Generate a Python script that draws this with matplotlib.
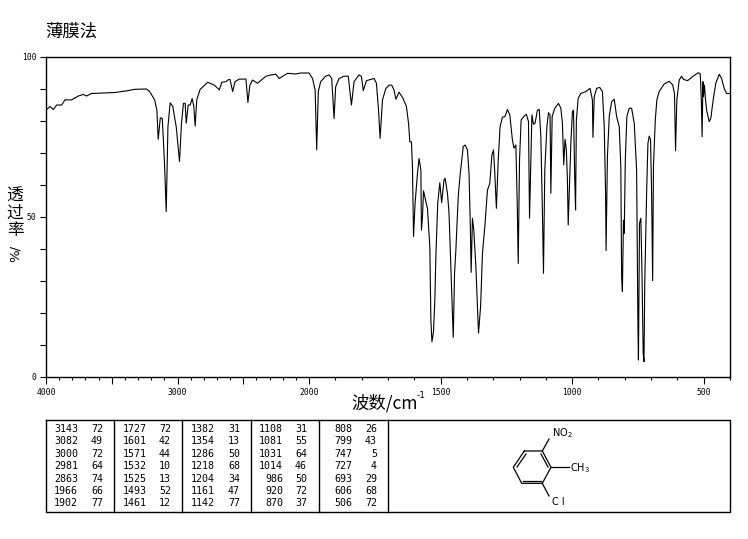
import matplotlib
matplotlib.use("Agg")
import numpy as np
import matplotlib.pyplot as plt
from matplotlib.ticker import FixedLocator, FixedFormatter

plt.rcParams['font.family'] = ['Noto Sans CJK SC', 'DejaVu Sans']

# spectrum: wavenumber (cm-1) and transmittance (%)
wavenumber = [
    4000, 3970, 3944, 3919, 3881, 3856, 3806, 3755, 3717, 3692, 3654, 3528, 3477, 3376, 3326,
    3237, 3212, 3174, 3157, 3147, 3131, 3116, 3099, 3086, 3073, 3056, 3036, 3010, 2985, 2970,
    2955, 2942, 2934, 2919, 2904, 2889, 2876, 2866, 2854, 2828, 2770, 2720, 2682, 2664, 2631,
    2619, 2601, 2581, 2563, 2530, 2480, 2465, 2450, 2430, 2392, 2328, 2291, 2253, 2227, 2164,
    2101, 2063, 2000, 1987, 1977, 1971, 1965, 1956, 1937, 1924, 1914, 1905, 1899, 1886, 1867,
    1851, 1839, 1829, 1810, 1801, 1794, 1782, 1753, 1744, 1736, 1730, 1721, 1708, 1696, 1686,
    1677, 1670, 1658, 1643, 1630, 1622, 1617, 1611, 1607, 1603, 1597, 1588, 1582, 1575, 1573,
    1569, 1565, 1556, 1550, 1541, 1537, 1533, 1527, 1522, 1518, 1511, 1503, 1496, 1487, 1483,
    1474, 1468, 1461, 1455, 1452, 1447, 1442, 1433, 1426, 1414, 1407, 1398, 1392, 1387, 1384,
    1379, 1374, 1366, 1360, 1356, 1348, 1341, 1332, 1322, 1313, 1305, 1299, 1294, 1288, 1281,
    1274, 1265, 1255, 1246, 1237, 1227, 1221, 1214, 1209, 1205, 1200, 1194, 1182, 1174, 1166,
    1162, 1158, 1153, 1147, 1141, 1132, 1125, 1119, 1113, 1109, 1104, 1096, 1090, 1084, 1081,
    1076, 1066, 1052, 1043, 1037, 1032, 1027, 1022, 1018, 1015, 1011, 1005, 999, 995, 990,
    987, 984, 977, 967, 948, 932, 923, 921, 916, 907, 895, 885, 878, 873, 871,
    866, 859, 850, 840, 831, 821, 815, 812, 809, 805, 802, 798, 792, 783, 774,
    764, 755, 750, 748, 744, 739, 735, 730, 727, 724, 717, 712, 707, 702, 698,
    694, 691, 684, 678, 669, 650, 631, 618, 611, 607, 602, 593, 584, 577, 561,
    542, 520, 513, 509, 506, 503, 501, 497, 494, 489, 479, 473, 464, 454, 441,
    432, 422, 413, 400,
]
transmittance = [
    83.4, 84.5, 83.6, 85.0, 85.0, 86.6, 86.6, 87.8, 88.3, 87.8, 88.6, 88.8, 88.9, 89.5, 89.9,
    90.0, 89.2, 86.6, 83.4, 74.3, 81.0, 80.8, 66.8, 51.7, 78.2, 85.7, 84.5, 78.2, 67.3, 79.3,
    85.5, 85.5, 79.3, 85.0, 85.0, 87.0, 84.5, 78.4, 86.6, 89.9, 92.1, 91.2, 89.7, 92.1, 92.3,
    92.8, 93.0, 89.2, 92.3, 93.1, 93.1, 85.8, 91.2, 92.8, 91.8, 94.0, 94.4, 94.6, 93.3, 94.9,
    94.7, 95.0, 95.0, 93.3, 89.7, 71.0, 89.2, 92.3, 94.0, 94.4, 93.3, 80.8, 90.7, 93.3, 94.0,
    94.0, 85.0, 92.3, 94.4, 93.9, 89.5, 92.6, 93.3, 91.8, 83.4, 74.6, 86.6, 90.2, 91.2, 91.2,
    89.7, 86.8, 89.0, 87.1, 84.5, 79.3, 73.5, 73.5, 65.7, 43.9, 54.3, 63.6, 68.3, 64.7, 45.9,
    50.0, 58.2, 54.8, 52.7, 40.7, 17.8, 11.0, 14.2, 24.0, 37.6, 54.3, 60.7, 54.5, 61.6, 62.1,
    57.4, 51.2, 34.5, 19.9, 12.4, 32.4, 39.7, 56.4, 63.1, 72.0, 72.5, 71.0, 63.6, 47.0, 32.7,
    49.6, 46.0, 34.5, 22.0, 13.7, 22.0, 38.6, 47.0, 58.4, 60.5, 69.4, 71.0, 63.6, 52.7, 67.8,
    78.2, 81.2, 81.4, 83.6, 81.9, 74.0, 71.5, 72.5, 55.3, 35.5, 67.8, 80.3, 81.6, 82.1, 79.8,
    49.6, 63.6, 81.9, 79.0, 79.3, 83.4, 83.6, 75.1, 51.2, 32.4, 64.7, 78.2, 82.6, 81.9, 57.4,
    81.4, 84.0, 85.5, 84.0, 79.3, 66.3, 74.3, 70.9, 61.6, 47.5, 57.4, 73.0, 82.9, 83.4, 61.6,
    52.2, 80.3, 87.1, 88.6, 89.2, 90.2, 86.6, 74.9, 87.6, 90.2, 90.5, 89.2, 78.2, 57.4, 39.5,
    68.8, 81.4, 86.0, 86.8, 81.4, 78.2, 65.7, 31.4, 26.7, 49.0, 44.9, 67.8, 81.4, 84.0, 84.0,
    79.3, 64.7, 15.7, 5.3, 48.0, 49.6, 34.5, 7.4, 4.8, 29.3, 57.4, 73.0, 75.3, 74.1, 57.4,
    30.1, 65.7, 80.3, 86.6, 89.2, 91.6, 92.4, 91.3, 88.6, 70.7, 86.6, 92.8, 94.0, 93.0, 92.6,
    93.9, 95.1, 94.7, 86.6, 75.1, 92.3, 87.6, 91.2, 87.6, 83.4, 79.8, 80.8, 86.6, 91.8, 94.6,
    93.3, 90.2, 88.6, 88.6,
]

# peak table, one list per block
peak_wn = [
    [3143, 3082, 3000, 2981, 2863, 1966, 1902],
    [1727, 1601, 1571, 1532, 1525, 1493, 1461],
    [1382, 1354, 1286, 1218, 1204, 1161, 1142],
    [1108, 1081, 1031, 1014, 986, 920, 870],
    [808, 799, 747, 727, 693, 606, 506],
]
peak_t = [
    [72, 49, 72, 64, 74, 66, 77],
    [72, 42, 44, 10, 13, 52, 12],
    [31, 13, 50, 68, 34, 47, 77],
    [31, 55, 64, 46, 50, 72, 37],
    [26, 43, 5, 4, 29, 68, 72],
]

x_major = [4000, 3500, 3000, 2500, 2000, 1500, 1000, 500]
x_labels = ['4000', '', '3000', '', '2000', '1500', '1000', '500']
x_minor = [w for w in range(3900, 399, -100) if w not in x_major]
y_major = [0, 50, 100]
y_minor = [10, 20, 30, 40, 60, 70, 80, 90]


def wn_forward(w):
    # the chart's x axis is twice as wide per cm-1 below 2000
    w = np.asarray(w, dtype=float)
    return np.where(w > 2000, (w - 2000) / 2.0, w - 2000)


def wn_inverse(v):
    v = np.asarray(v, dtype=float)
    return np.where(v > 0, v * 2.0 + 2000, v + 2000)


W, H = 748, 539
fig = plt.figure(figsize=(W / 100, H / 100), dpi=100)
mono = 'DejaVu Sans Mono'

ax = fig.add_axes([46 / W, 1 - 377 / H, 684 / W, 320 / H])
ax.set_xscale('function', functions=(wn_forward, wn_inverse))
ax.plot(wavenumber, transmittance, color='black', linewidth=0.8)
ax.set_xlim(4000, 400)
ax.set_ylim(0, 100)
ax.xaxis.set_major_locator(FixedLocator(x_major))
ax.xaxis.set_major_formatter(FixedFormatter(x_labels))
ax.xaxis.set_minor_locator(FixedLocator(x_minor))
ax.xaxis.set_minor_formatter(FixedFormatter([]))
ax.yaxis.set_major_locator(FixedLocator(y_major))
ax.yaxis.set_minor_locator(FixedLocator(y_minor))
ax.tick_params(axis='x', which='major', length=5, width=0.8, labelsize=5.8, pad=3)
ax.tick_params(axis='x', which='minor', length=2, width=0.8)
ax.tick_params(axis='y', which='both', length=4, width=0.8, labelsize=5.8, pad=3)
for lab in ax.get_xticklabels() + ax.get_yticklabels():
    lab.set_family(mono)
for s in ax.spines.values():
    s.set_linewidth(1.0)

# overlay in pixel coordinates for the labels, table and structure
ov = fig.add_axes([0, 0, 1, 1])
ov.set_xlim(0, W)
ov.set_ylim(H, 0)
ov.axis('off')
ov.patch.set_alpha(0)

ov.text(45, 32, '薄膜法', fontsize=12.5, ha='left', va='center')
ov.text(351, 403, '波数/cm', fontsize=12.5, ha='left', va='center')
ov.text(417, 396, '-1', fontsize=6.5, ha='left', va='center', family='DejaVu Sans')
for ch, y in zip('透过率', [196, 213, 230]):
    ov.text(15, y, ch, fontsize=12, ha='center', va='center')
ov.text(15, 253, '%/', fontsize=9.5, ha='center', va='center', rotation=90,
        family='DejaVu Sans')

# peak table frame
ov.plot([46, 730, 730, 46, 46], [420, 420, 512, 512, 420], color='black', lw=1.0)
for x in [114, 182, 251, 319, 388]:
    ov.plot([x, x], [420, 512], color='black', lw=1.0)
row_y = [429.3, 441.5, 454, 466.3, 478.7, 491, 503.3]
col_wn = [78, 147, 215, 283, 352]
col_t = [103, 171, 240, 307, 377]
for i in range(5):
    for j, y in enumerate(row_y):
        ov.text(col_wn[i], y, str(peak_wn[i][j]), family=mono, fontsize=7.2, ha='right', va='center')
        ov.text(col_t[i], y, str(peak_t[i][j]), family=mono, fontsize=7.2, ha='right', va='center')

# structure: 2-chloro-6-nitrotoluene ring
ring_x = np.array([524.3, 542.3, 551, 542.3, 521.7, 513.3, 524.3])
ring_y = np.array([451, 451, 467.3, 483.3, 483.3, 467.3, 451])
ov.plot(ring_x, ring_y, color='black', lw=0.9)
ov.plot([526, 517], [454, 467], color='black', lw=0.9)
ov.plot([541, 548], [454, 467], color='black', lw=0.9)
ov.plot([523, 541], [480.5, 480.5], color='black', lw=0.9)
ov.plot([542.3, 549], [451, 439], color='black', lw=0.9)
ov.plot([551, 569], [467.3, 467.3], color='black', lw=0.9)
ov.plot([542.3, 549], [483.3, 496], color='black', lw=0.9)
ov.text(552, 433, 'NO$_2$', fontsize=7, ha='left', va='center', family='DejaVu Sans')
ov.text(570, 468, 'CH$_3$', fontsize=7, ha='left', va='center', family='DejaVu Sans')
ov.text(552, 502, 'C l', fontsize=7, ha='left', va='center', family='DejaVu Sans')

fig.savefig('out.png', dpi=100)
